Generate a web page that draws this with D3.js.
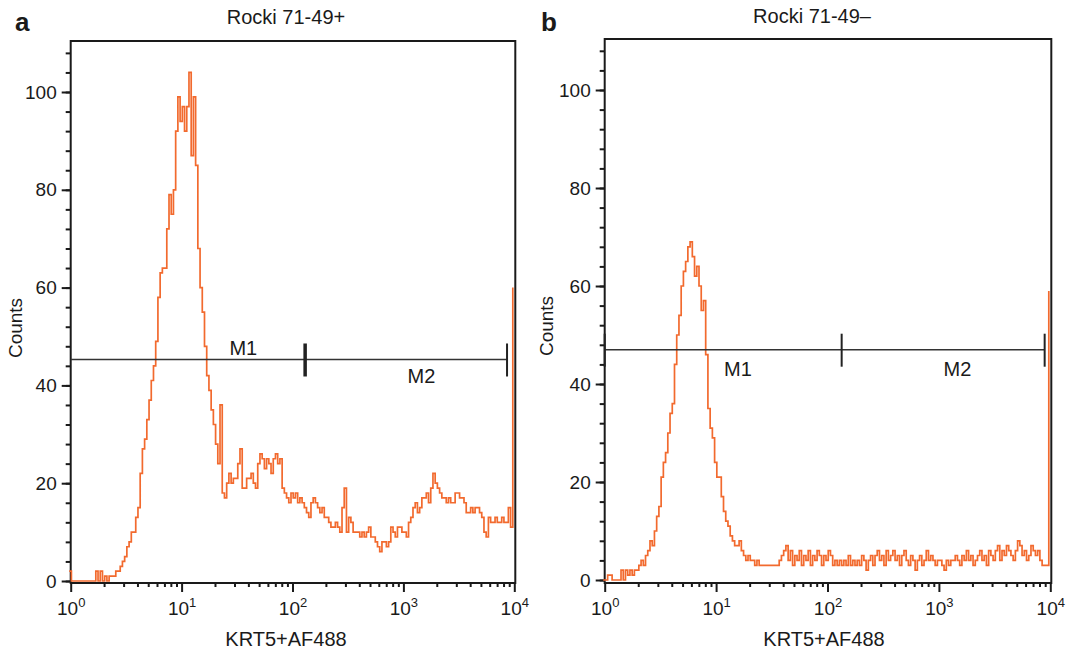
<!DOCTYPE html>
<html>
<head>
<meta charset="utf-8">
<script src="https://cdn.jsdelivr.net/npm/d3@7"></script>
<style>
  body { margin: 0; background: #fff; }
  svg text { font-family: "Liberation Sans", Arial, Helvetica, sans-serif; fill: #1a1a1a; }
</style>
</head>
<body>
<svg id="chart" width="1067" height="653"></svg>
<script>
// histogram channels, 0.02 decade wide each, from 10^0 to 10^4
const countsA = [
  2,0,0,0,0,0,0,0,0,0,
  0,0,2,0,2,0,1,0,1,1,
  1,2,2,3,4,5,7,8,10,10,
  13,15,22,27,29,33,37,41,44,49,
  58,63,64,64,72,79,75,80,92,99,
  94,97,92,97,104,87,99,85,68,60,
  55,48,42,39,35,32,28,24,36,18,
  17,20,22,20,21,21,24,27,19,19,
  21,21,22,20,19,24,26,25,23,25,
  24,22,25,26,24,25,19,18,17,16,
  18,17,18,16,17,16,15,14,13,16,
  17,16,15,14,15,13,13,12,11,11,
  12,11,10,15,19,10,13,12,10,10,
  10,9,10,9,10,11,9,9,8,7,
  6,8,8,7,8,11,10,9,11,11,
  10,10,9,12,13,15,16,14,15,17,
  17,18,16,19,22,20,19,18,17,17,
  16,17,16,16,18,18,17,17,16,14,
  14,15,14,15,15,14,13,10,9,13,
  12,12,13,12,12,13,12,12,15,11
];
const overflowA = 60;

const countsB = [
  0,0,1,1,0,0,0,0,2,0,
  2,1,2,1,2,2,3,4,3,5,
  6,8,7,10,13,15,21,24,26,30,
  34,36,44,50,54,60,63,65,68,69,
  66,62,64,60,55,57,46,35,31,29,
  24,21,21,17,14,12,11,9,8,7,
  7,8,6,5,4,5,4,4,3,4,
  3,3,3,3,3,3,3,3,3,4,
  5,6,7,4,6,3,5,4,6,3,
  5,4,6,3,5,4,6,5,3,5,
  4,6,5,3,4,3,4,3,4,3,
  5,3,4,3,4,3,5,4,2,4,
  5,3,5,6,4,5,3,6,4,5,
  6,4,5,3,5,6,4,3,5,4,
  2,4,5,3,4,6,4,5,4,3,
  4,4,3,2,4,3,4,4,5,4,
  3,5,4,6,4,5,3,4,5,6,
  4,5,3,6,5,4,6,7,4,6,
  5,7,6,5,4,6,8,7,5,6,
  4,5,7,6,5,6,4,3,3,3
];
const overflowB = 59;

const decadeTicks = [1, 10, 100, 1000, 10000];
const countTicks = [0, 20, 40, 60, 80, 100];
const countMinorTicks = [0,4,8,12,16,20,24,28,32,36,40,44,48,52,56,60,64,68,72,76,80,84,88,92,96,100,104,108];
const decadeMinorTicks = [2,3,4,5,6,7,8,9,20,30,40,50,60,70,80,90,200,300,400,500,600,700,800,900,2000,3000,4000,5000,6000,7000,8000,9000];

const gateMarkersA = [130, 8600];
const gateLevelA = 45.3;
const gateMarkersB = [1, 134, 8900];
const gateLevelB = 47;
const gateNames = ["M1", "M2"];

const titles = ["Rocki 71-49+", "Rocki 71-49\u2013"];
const letters = ["a", "b"];
const xTitle = "KRT5+AF488";
const yTitle = "Counts";

const svg = d3.select("#chart");
const orange = "#f26a2e";
const ink = "#1a1a1a";

const panels = [
  { letter: letters[0], title: titles[0], counts: countsA, overflow: overflowA,
    markers: gateMarkersA, level: gateLevelA, markerWidths: [3.5, 2],
    left: 70.7, right: 514.3, y0: 581, y100: 92, top: 41, bottom: 583,
    letterX: 15, titleX: 286, titleY: 24, xTitleX: 286, yTitleX: 22, yTitleY: 328,
    labelPos: [[36, 46.2], [1456, 40.5]] },
  { letter: letters[1], title: titles[1], counts: countsB, overflow: overflowB,
    markers: gateMarkersB, level: gateLevelB, markerWidths: [2, 2, 2],
    left: 604.7, right: 1050.3, y0: 580, y100: 90, top: 39, bottom: 583,
    letterX: 541, titleX: 812, titleY: 23, xTitleX: 824, yTitleX: 553, yTitleY: 326,
    labelPos: [[15.7, 41.6], [1469, 41.6]] }
];

panels.forEach(p => {
  const x = d3.scaleLog().domain([1, 10000]).range([p.left, p.right]);
  const y = d3.scaleLinear().domain([0, 100]).range([p.y0, p.y100]);
  const g = svg.append("g");

  // panel letter and title
  g.append("text").attr("x", p.letterX).attr("y", 31)
    .attr("font-size", 26).attr("font-weight", "bold").text(p.letter);
  g.append("text").attr("x", p.titleX).attr("y", p.titleY)
    .attr("text-anchor", "middle").attr("font-size", 20).text(p.title);

  // frame
  g.append("rect").attr("x", p.left).attr("y", p.top)
    .attr("width", p.right - p.left + 1).attr("height", p.bottom - p.top)
    .attr("fill", "none").attr("stroke", ink).attr("stroke-width", 2);

  // y axis
  const yMinor = g.append("g").attr("transform", `translate(${p.left},0)`)
    .call(d3.axisLeft(y).tickValues(countMinorTicks).tickSize(5).tickFormat(""));
  const yMajor = g.append("g").attr("transform", `translate(${p.left},0)`)
    .call(d3.axisLeft(y).tickValues(countTicks).tickSize(9).tickPadding(5));
  [yMinor, yMajor].forEach(a => {
    a.select(".domain").remove();
    a.selectAll("line").attr("stroke", ink).attr("stroke-width", 2);
  });
  yMajor.selectAll("text").attr("font-size", 19).attr("font-family", null).attr("fill", ink);

  // x axis
  const xMinor = g.append("g").attr("transform", `translate(0,${p.bottom})`)
    .call(d3.axisBottom(x).tickValues(decadeMinorTicks).tickSize(4).tickFormat(""));
  const xMajor = g.append("g").attr("transform", `translate(0,${p.bottom})`)
    .call(d3.axisBottom(x).tickValues(decadeTicks).tickSize(9).tickPadding(4).tickFormat(""));
  [xMinor, xMajor].forEach(a => {
    a.select(".domain").remove();
    a.selectAll("line").attr("stroke", ink).attr("stroke-width", 2);
  });
  xMajor.selectAll(".tick").append("text")
    .attr("y", 32).attr("text-anchor", "middle").attr("font-size", 19).attr("fill", ink)
    .each(function(d) {
      const t = d3.select(this);
      t.append("tspan").text("10");
      t.append("tspan").attr("dy", -8).attr("font-size", 13).text(Math.round(Math.log10(d)));
    });

  // axis titles
  g.append("text").attr("x", p.xTitleX).attr("y", 646)
    .attr("text-anchor", "middle").attr("font-size", 20).text(xTitle);
  g.append("text").attr("transform", `translate(${p.yTitleX},${p.yTitleY}) rotate(-90)`)
    .attr("text-anchor", "middle").attr("font-size", 19).text(yTitle);

  // histogram trace
  const step = 4 / p.counts.length;
  const pts = p.counts.map((c, i) => [Math.pow(10, i * step), c]);
  pts.push([10000, p.counts[p.counts.length - 1]]);
  pts.push([10000, p.overflow]);
  const line = d3.line().x(d => x(d[0]) - 1.5).y(d => y(d[1])).curve(d3.curveStepAfter);
  g.append("path").datum(pts).attr("d", line)
    .attr("fill", "none").attr("stroke", orange).attr("stroke-width", 1.7)
    .attr("stroke-linejoin", "miter");

  // marker gates
  const gy = y(p.level);
  const lastMarker = p.markers[p.markers.length - 1];
  g.append("line").attr("x1", x(1)).attr("x2", x(lastMarker))
    .attr("y1", gy).attr("y2", gy).attr("stroke", "#333").attr("stroke-width", 1.6);
  g.selectAll(".gate-tick").data(p.markers).join("line").attr("class", "gate-tick")
    .attr("x1", d => x(d)).attr("x2", d => x(d))
    .attr("y1", gy - 16).attr("y2", gy + 17)
    .attr("stroke", "#222").attr("stroke-width", (d, i) => p.markerWidths[i]);
  g.selectAll(".gate-label").data(gateNames).join("text").attr("class", "gate-label")
    .attr("x", (d, i) => x(p.labelPos[i][0])).attr("y", (d, i) => y(p.labelPos[i][1]))
    .attr("text-anchor", "middle").attr("font-size", 20).text(d => d);
});
</script>
</body>
</html>
